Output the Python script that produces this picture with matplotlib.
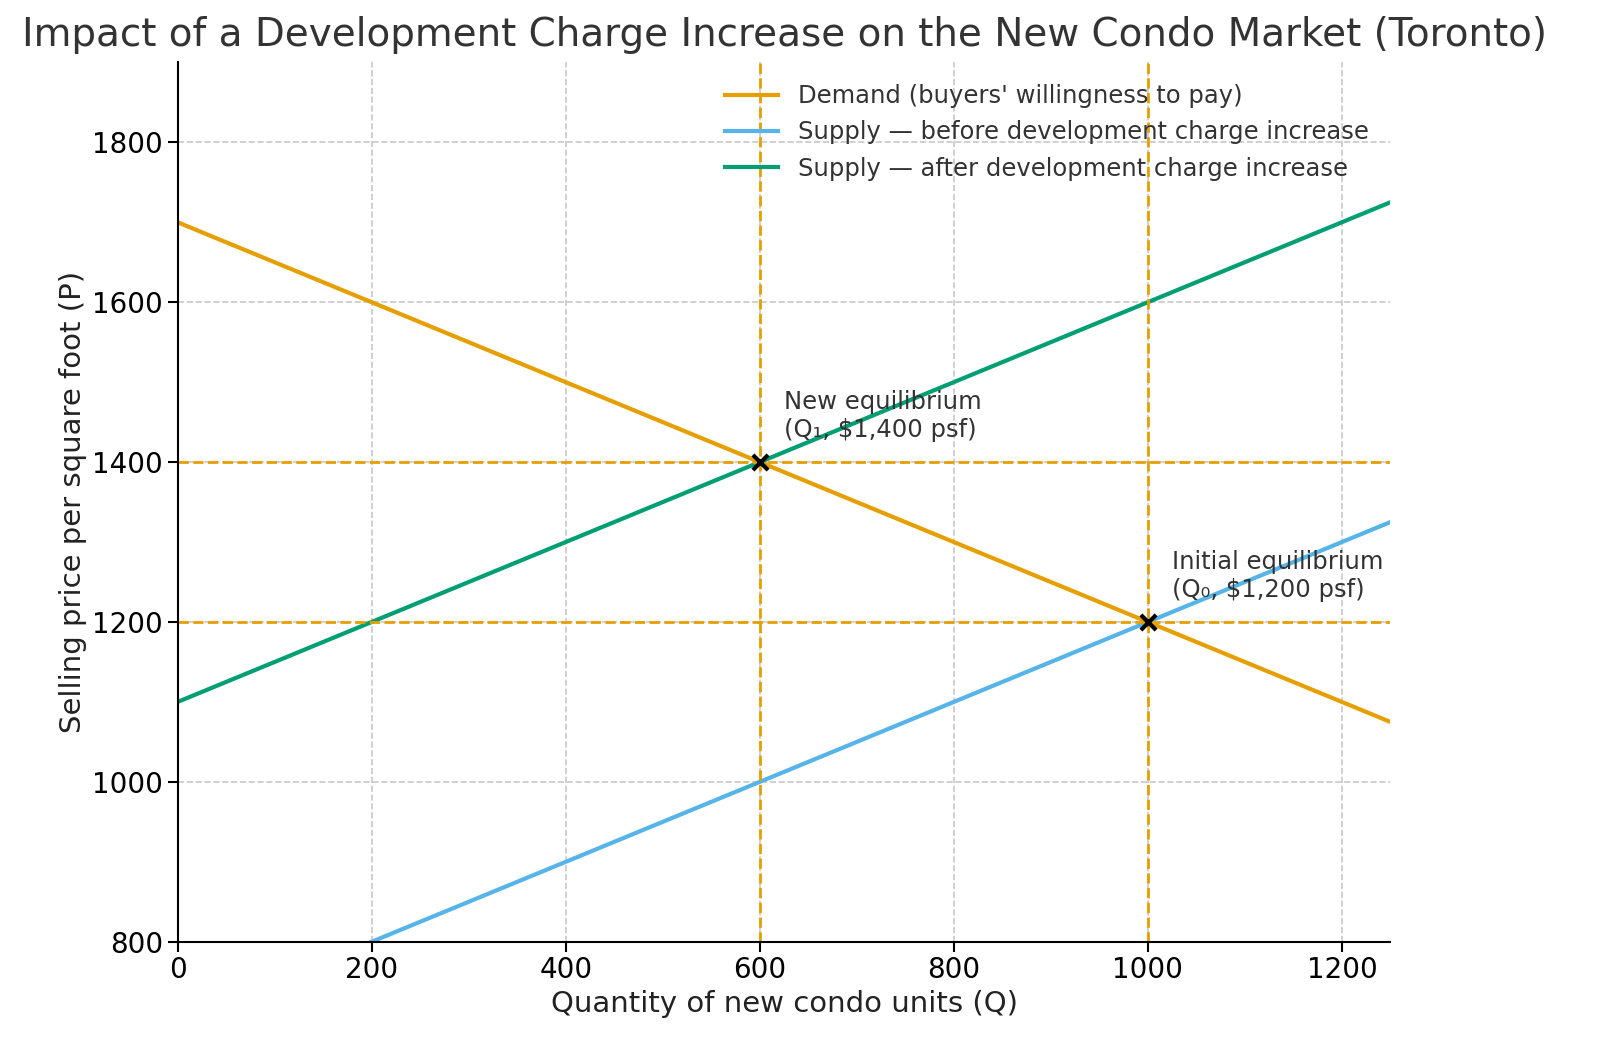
import numpy as np
import matplotlib.pyplot as plt

# Data
q = [0, 1250]
demand_p = [1700, 1075]
supply_before_p = [700, 1325]
supply_after_p = [1100, 1725]
eq_q = [1000, 600]
eq_p = [1200, 1400]
eq_labels = ["Initial equilibrium\n(Q\u2080, $1,200 psf)", "New equilibrium\n(Q\u2081, $1,400 psf)"]

orange = "#E69F00"
blue = "#56B4E9"
green = "#009E73"

fig = plt.figure(figsize=(16, 10.57), dpi=100)
ax = fig.add_axes([0.111, 0.109, 0.758, 0.832])

ax.plot(q, demand_p, color=orange, lw=3, label="Demand (buyers' willingness to pay)")
ax.plot(q, supply_before_p, color=blue, lw=3, label="Supply \u2014 before development charge increase")
ax.plot(q, supply_after_p, color=green, lw=3, label="Supply \u2014 after development charge increase")

for xq, yp in zip(eq_q, eq_p):
    ax.axvline(xq, color=orange, ls="--", lw=2)
    ax.axhline(yp, color=orange, ls="--", lw=2)

ax.scatter(eq_q, eq_p, marker="x", color="black", s=120, linewidths=3, zorder=5)
for xq, yp, lab in zip(eq_q, eq_p, eq_labels):
    ax.text(xq + 25, yp + 25, lab, fontsize=17.5, color="#333333", va="bottom", ha="left")

ax.set_xlim(0, 1250)
ax.set_ylim(800, 1900)
ax.set_xticks([0, 200, 400, 600, 800, 1000, 1200])
ax.set_yticks([800, 1000, 1200, 1400, 1600, 1800])
ax.tick_params(labelsize=20, length=7, width=1.5)
ax.grid(True, ls="--", color="#bbbbbb", lw=1.2, alpha=0.8)
ax.set_axisbelow(True)
for s in ["top", "right"]:
    ax.spines[s].set_visible(False)
for s in ["left", "bottom"]:
    ax.spines[s].set_linewidth(1.5)

ax.set_xlabel("Quantity of new condo units (Q)", fontsize=21, color="#222222")
ax.set_ylabel("Selling price per square foot (P)", fontsize=21, color="#222222")
ax.set_title("Impact of a Development Charge Increase on the New Condo Market (Toronto)", fontsize=28, color="#333333", pad=12)

leg = ax.legend(loc="upper right", frameon=False, fontsize=17.5, handlelength=2.2)
for t in leg.get_texts():
    t.set_color("#333333")

fig.savefig("out.png", dpi=100)
